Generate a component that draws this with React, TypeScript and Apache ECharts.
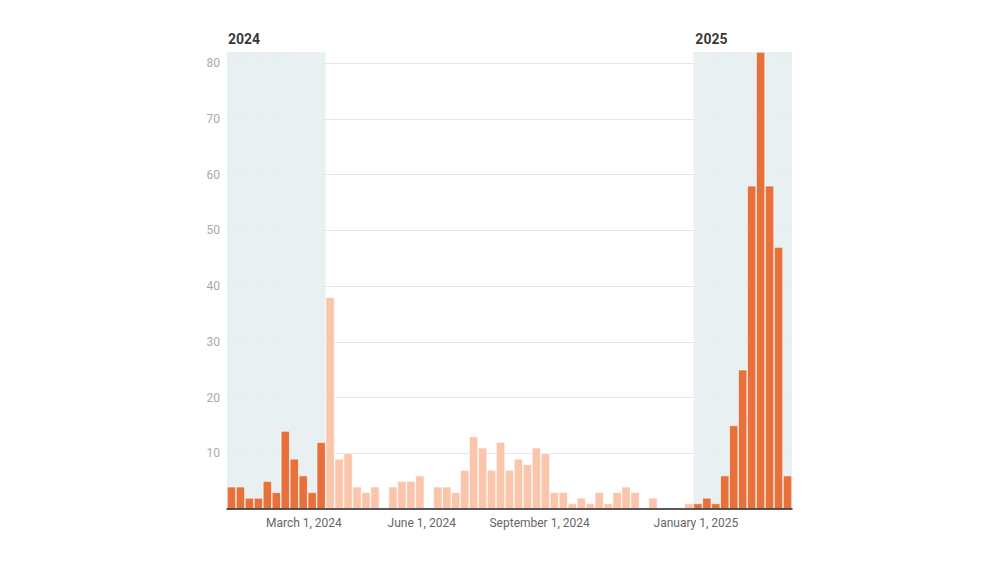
import React, { useEffect, useRef } from "react";
import * as echarts from "echarts";

// Weekly counts, weeks starting Jan 1, 2024
const early2024 = [4, 4, 2, 2, 5, 3, 14, 9, 6, 3, 12];
const restOf2024 = [
  38, 9, 10, 4, 3, 4, 0, 4, 5, 5, 6, 0, 4, 4, 3, 7, 13, 11, 7, 12, 7, 9, 8, 11, 10,
  3, 3, 1, 2, 1, 3, 1, 3, 4, 3, 0, 2, 0, 0, 0, 1,
];
const early2025 = [1, 2, 1, 6, 15, 25, 58, 82, 58, 47, 6];
const yearLabels = ["2024", "2025"];
const dateTicks = ["2024-03-01", "2024-06-01", "2024-09-01", "2025-01-01"];
const monthNames = [
  "January", "February", "March", "April", "May", "June",
  "July", "August", "September", "October", "November", "December",
];

const DARK = "#E8703A";
const PALE = "#FBC5AC";
const SHADE = "#E5EDEE";
const DAY = 86400000;
const Y_MAX = 82;

export default function App() {
  const ref = useRef<HTMLDivElement>(null);
  useEffect(() => {
    if (!ref.current) return;
    const chart = echarts.init(ref.current, null, { renderer: "svg" });
    const all = [...early2024, ...restOf2024, ...early2025];
    const categories = all.map((_, i) => String(i));
    const s2025 = early2024.length + restOf2024.length;
    const data = all.map((v, i) => {
      const pale = i >= early2024.length && i < s2025;
      return { value: v, itemStyle: { color: pale ? PALE : DARK } };
    });
    const shadeData = all.map((_, i) => {
      const inShade = i < early2024.length || i >= s2025;
      if (!inShade) return null;
      const yearIdx = i === 0 ? 0 : i === s2025 ? 1 : -1;
      return yearIdx >= 0
        ? {
            value: Y_MAX,
            label: {
              show: true,
              position: [yearIdx === 1 ? 2 : 1, -20],
              formatter: yearLabels[yearIdx],
              color: "#111",
              fontWeight: "bold",
              fontSize: 14,
              fontFamily: "Roboto",
            },
          }
        : Y_MAX;
    });
    const n = all.length;
    const startMs = Date.UTC(2024, 0, 1);
    const tickDays = dateTicks.map((d) => {
      const [y, m, dd] = d.split("-").map(Number);
      return Math.round((Date.UTC(y, m - 1, dd) - startMs) / DAY);
    });
    chart.setOption({
      animation: false,
      textStyle: { fontFamily: "Roboto" },
      grid: { left: 227, right: 208, top: 52, bottom: 54, containLabel: false },
      xAxis: [
        {
          type: "category",
          data: categories,
          boundaryGap: true,
          axisLine: { show: true, lineStyle: { color: "#222", width: 1.5 } },
          axisTick: { show: false },
          axisLabel: { show: false },
          splitLine: { show: false },
          z: 5,
        },
        {
          type: "value",
          min: 0,
          max: n * 7,
          position: "bottom",
          axisLine: { show: false },
          axisTick: { show: false },
          splitLine: { show: false },
          axisLabel: {
            customValues: tickDays,
            color: "#666",
            fontSize: 12,
            margin: 8,
            fontFamily: "Roboto",
            formatter: (val: number) => {
              const d = new Date(startMs + val * DAY);
              return `${monthNames[d.getUTCMonth()]} ${d.getUTCDate()}, ${d.getUTCFullYear()}`;
            },
          },
        },
      ],
      yAxis: {
        type: "value",
        min: 0,
        max: Y_MAX,
        interval: 10,
        axisLine: { show: false },
        axisTick: { show: false },
        axisLabel: {
          color: "#aaa",
          fontSize: 12,
          margin: 7,
          showMinLabel: false,
          showMaxLabel: false,
        },
        splitLine: {
          show: true,
          showMinLine: false,
          showMaxLine: false,
          lineStyle: { color: "#e6e6e6", width: 1 },
        },
      },
      series: [
        {
          type: "bar",
          name: "shade",
          data: shadeData,
          barCategoryGap: 0,
          barGap: "-100%",
          silent: true,
          z: 1,
          itemStyle: { color: SHADE, opacity: 0.85 },
        },
        {
          type: "bar",
          name: "cases",
          data,
          barCategoryGap: 0,
          barGap: "-100%",
          z: 2,
          itemStyle: { borderColor: "#ffffff", borderWidth: 0.6 },
        },
      ],
    });
    return () => chart.dispose();
  }, []);
  return <div ref={ref} style={{ width: 1000, height: 563, position: "absolute", left: 0, top: 0 }} />;
}
